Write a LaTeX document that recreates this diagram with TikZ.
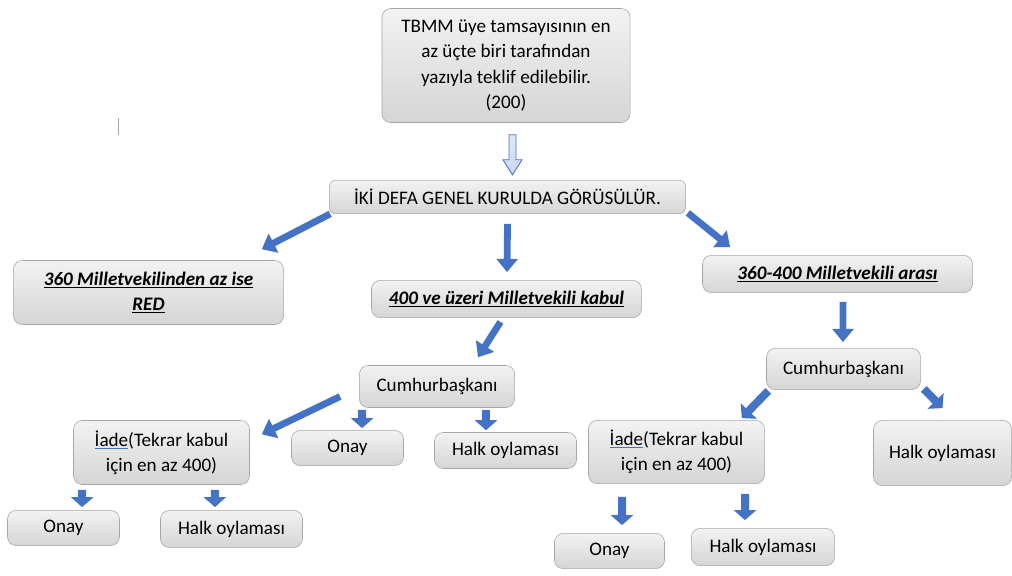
\documentclass[tikz,border=0pt]{standalone}
\usepackage{fontspec}
\setmainfont{Carlito}
\usetikzlibrary{arrows.meta,calc}

\definecolor{okmavi}{HTML}{4472C4}
\definecolor{okacik}{HTML}{C9D7EF}
\definecolor{kutukenar}{HTML}{A6A6A6}

\tikzset{
  kutu/.style={draw=kutukenar, rounded corners=0.22cm, top color=gray!10,
    bottom color=gray!33, align=center, inner sep=2pt,
    font=\fontsize{13.6}{18}\selectfont},
  ok/.style={draw=okmavi, line width=0.17cm,
    -{Triangle[length=0.33cm,width=0.52cm]}},
  kisaok/.style={draw=okmavi, line width=0.2cm,
    -{Triangle[length=0.25cm,width=0.55cm]}},
}
\newcommand{\kalin}[1]{\underline{\textbf{\textit{#1}}}}
\newcommand{\iade}{\textcolor{okmavi}{\underline{\textcolor{black}{İade}}}}

\begin{document}
\begin{tikzpicture}[x={(0.025cm,0)},y={(0,-0.025cm)}]
\useasboundingbox (0,0) rectangle (1012,575);

% kutular
\node[kutu, minimum width=6.2cm, minimum height=2.85cm] (tbmm) at (506,65.5)
  {TBMM üye tamsayısının en\\az üçte biri tarafından\\yazıyla teklif edilebilir.\\(200)};
\node[kutu, rounded corners=0.15cm, minimum width=8.9cm, minimum height=0.83cm] (kurul) at (507.5,197)
  {İKİ DEFA GENEL KURULDA GÖRÜSÜLÜR.};
\node[kutu, minimum width=6.75cm, minimum height=1.6cm] (red) at (148.5,292.5)
  {\kalin{360 Milletvekilinden az ise}\\\kalin{RED}};
\node[kutu, minimum width=6.75cm, minimum height=0.93cm] (kabul) at (506.5,299)
  {\kalin{400 ve üzeri Milletvekili kabul}};
\node[kutu, minimum width=6.75cm, minimum height=0.93cm] (arasi) at (837.5,274)
  {\kalin{360-400 Milletvekili arası}};

\node[kutu, minimum width=3.88cm, minimum height=1.05cm] (cbsol) at (437,386.5) {Cumhurbaşkanı};
\node[kutu, minimum width=2.8cm, minimum height=0.88cm] (onaysol) at (347.5,448) {Onay};
\node[kutu, minimum width=3.55cm, minimum height=0.9cm] (halksol) at (505.5,450.5) {Halk oylaması};
\node[kutu, minimum width=4.4cm, minimum height=1.6cm] (iadesol) at (161.5,452.5)
  {\iade(Tekrar kabul\\için en az 400)};
\node[kutu, minimum width=2.8cm, minimum height=0.88cm] (onayalt) at (63.5,528) {Onay};
\node[kutu, minimum width=3.55cm, minimum height=0.93cm] (halkalt) at (231.5,529) {Halk oylaması};

\node[kutu, minimum width=3.85cm, minimum height=1.03cm] (cbsag) at (843.5,369) {Cumhurbaşkanı};
\node[kutu, minimum width=4.4cm, minimum height=1.58cm] (iadesag) at (676.5,452)
  {\iade(Tekrar kabul\\için en az 400)};
\node[kutu, minimum width=3.45cm, minimum height=1.63cm] (halksag) at (942.5,453) {Halk oylaması};
\node[kutu, minimum width=2.75cm, minimum height=0.88cm] (onaysag) at (609.5,551) {Onay};
\node[kutu, minimum width=3.58cm, minimum height=0.93cm] (halksagalt) at (763,547) {Halk oylaması};

% imlec izi
\draw[gray!70, line width=0.5pt] (118,118) -- (118,135);

% ilk ok (bos)
\draw[okmavi, line width=0.6pt, top color=okacik!60, bottom color=okacik]
  ($(tbmm.south)+(3,12)$) -- ++(7,0) -- ++(0,25) -- ++(6,0) -- ++(-9.5,15)
  -- ++(-9.5,-15) -- ++(6,0) -- cycle;

% oklar
\draw[ok] ($(kurul.south west)+(1,0)$) -- ($(red.north east)+(-22,-11)$);
\draw[ok] ($(kurul.south)+(0,10)$) -- ($(kabul.north)+(0.5,-8)$);
\draw[ok] ($(kurul.south east)+(2,-1)$) -- ($(arasi.north west)+(28,-8)$);
\draw[ok] ($(kabul.south)+(-6,4)$) -- ($(cbsol.north)+(41,-8)$);
\draw[ok] ($(arasi.south)+(5.5,9)$) -- ($(cbsag.north)+(-0.5,-6)$);
\draw[ok] ($(cbsol.west)+(-19,10)$) -- ($(iadesol.north east)+(12,14)$);
\draw[kisaok] ($(cbsol.south west)+(3,2)$) -- ($(onaysol.north)+(14.5,-2)$);
\draw[kisaok] ($(cbsol.south)+(49,2)$) -- ($(halksol.north)+(-19.5,-2)$);
\draw[kisaok] ($(cbsag.south west)+(2,1)$) -- ($(iadesag.north east)+(-23,-2)$);
\draw[kisaok] ($(cbsag.south east)+(3,-1)$) -- ($(halksag.north)+(0,-12)$);
\draw[kisaok] ($(iadesol.south west)+(9,5)$) -- ($(onayalt.north)+(18.5,-3)$);
\draw[kisaok] ($(iadesol.south east)+(-35,5)$) -- ($(halkalt.north)+(-16.5,-3)$);
\draw[kisaok] ($(iadesag.south)+(-54.5,13)$) -- ($(onaysag.north)+(12.5,-8)$);
\draw[kisaok] ($(iadesag.south)+(68.5,10)$) -- ($(halksagalt.north)+(-18,-8)$);
\end{tikzpicture}
\end{document}
